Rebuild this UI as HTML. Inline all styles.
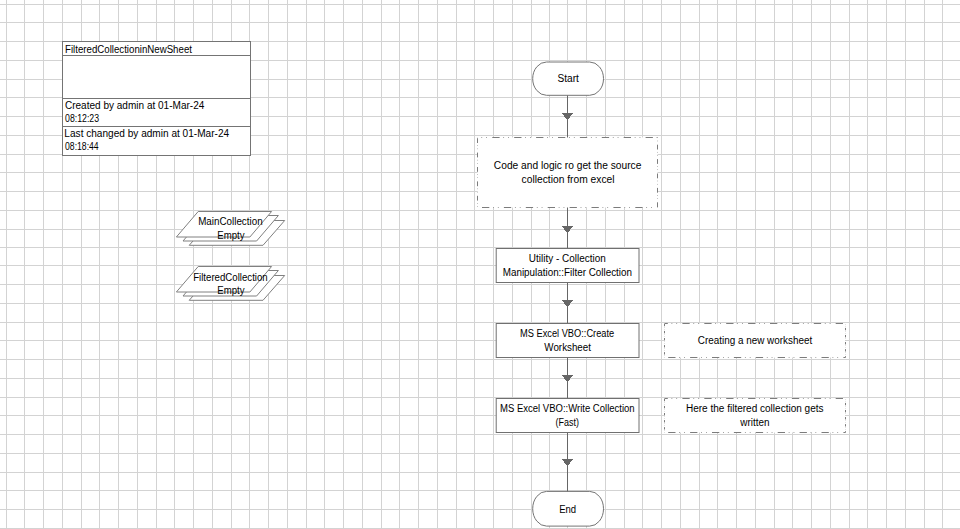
<!DOCTYPE html><html><head><meta charset="utf-8"><style>html,body{margin:0;padding:0;background:#fff;overflow:hidden}svg{display:block}text{font-family:'Liberation Sans', sans-serif;font-size:10px;fill:#000}</style></head><body>
<svg width="960" height="529" viewBox="0 0 960 529">
<rect width="960" height="529" fill="#fff"/>
<path d="M6.5 0V529M24.5 0V529M43.5 0V529M62.5 0V529M81.5 0V529M99.5 0V529M118.5 0V529M137.5 0V529M156.5 0V529M174.5 0V529M193.5 0V529M212.5 0V529M231.5 0V529M249.5 0V529M268.5 0V529M287.5 0V529M306.5 0V529M324.5 0V529M343.5 0V529M362.5 0V529M381.5 0V529M399.5 0V529M418.5 0V529M437.5 0V529M456.5 0V529M474.5 0V529M493.5 0V529M512.5 0V529M531.5 0V529M549.5 0V529M567.5 0V529M586.5 0V529M605.5 0V529M624.5 0V529M642.5 0V529M661.5 0V529M680.5 0V529M699.5 0V529M717.5 0V529M736.5 0V529M755.5 0V529M774.5 0V529M792.5 0V529M811.5 0V529M830.5 0V529M849.5 0V529M867.5 0V529M886.5 0V529M905.5 0V529M924.5 0V529M942.5 0V529M0 4.5H960M0 22.5H960M0 41.5H960M0 60.5H960M0 79.5H960M0 97.5H960M0 116.5H960M0 135.5H960M0 154.5H960M0 172.5H960M0 191.5H960M0 210.5H960M0 229.5H960M0 247.5H960M0 265.5H960M0 284.5H960M0 303.5H960M0 322.5H960M0 340.5H960M0 359.5H960M0 378.5H960M0 397.5H960M0 415.5H960M0 434.5H960M0 453.5H960M0 472.5H960M0 490.5H960M0 509.5H960M0 528.5H960" stroke="#d3d3d3" stroke-width="1" fill="none" shape-rendering="crispEdges"/>
<rect x="62.5" y="41.5" width="188" height="114" fill="#fff" stroke="#747474" stroke-width="1" shape-rendering="crispEdges"/>
<path d="M62 55.5H251M62 98.5H251M62 126.5H251" stroke="#747474" stroke-width="1" shape-rendering="crispEdges"/>
<path d="M567.5 95V492" stroke="#666" stroke-width="1" shape-rendering="crispEdges"/>
<path d="M561.5 113H573.5L567.5 120Z" fill="#666" shape-rendering="crispEdges"/>
<path d="M561.5 226H573.5L567.5 233Z" fill="#666" shape-rendering="crispEdges"/>
<path d="M561.5 300H573.5L567.5 307Z" fill="#666" shape-rendering="crispEdges"/>
<path d="M561.5 375H573.5L567.5 382Z" fill="#666" shape-rendering="crispEdges"/>
<path d="M561.5 459H573.5L567.5 466Z" fill="#666" shape-rendering="crispEdges"/>
<polygon points="211.3,220.5 284.7,220.5 263.0,245.3 189.2,245.3" fill="#fff" stroke="#808080" stroke-width="1"/>
<polygon points="205.0,215.5 278.4,215.5 256.6,241.0 183.0,241.0" fill="#fff" stroke="#808080" stroke-width="1"/>
<polygon points="198.2,211.5 271.6,211.5 249.9,237.0 176.4,237.0" fill="#fff" stroke="#808080" stroke-width="1"/>
<polygon points="211.3,275.5 284.7,275.5 263.0,300.3 189.2,300.3" fill="#fff" stroke="#808080" stroke-width="1"/>
<polygon points="205.0,270.5 278.4,270.5 256.6,296.0 183.0,296.0" fill="#fff" stroke="#808080" stroke-width="1"/>
<polygon points="198.2,266.5 271.6,266.5 249.9,292.0 176.4,292.0" fill="#fff" stroke="#808080" stroke-width="1"/>
<rect x="532.7" y="62.0" width="70.8" height="33.30" rx="13.8" ry="16.65" fill="#fff" stroke="#747474" stroke-width="1"/>
<rect x="532.7" y="491.4" width="70.8" height="34.70" rx="13.8" ry="17.35" fill="#fff" stroke="#747474" stroke-width="1"/>
<rect x="496.2" y="248.5" width="142.8" height="34" fill="#fff" stroke="#707070" stroke-width="1"/>
<rect x="496.2" y="323.5" width="142.8" height="34" fill="#fff" stroke="#707070" stroke-width="1"/>
<rect x="496.2" y="398.5" width="142.8" height="34" fill="#fff" stroke="#707070" stroke-width="1"/>
<rect x="477.5" y="137.5" width="180.0" height="70.0" fill="#fff"/>
<path d="M477.5 137.5H657.5" stroke="#7c7c7c" stroke-dasharray="7.30 3.75 0.70 4.15 0.70 5.30" stroke-dashoffset="7.1"/>
<path d="M477.5 207.5H657.5" stroke="#7c7c7c" stroke-dasharray="7.30 3.75 0.70 4.15 0.70 5.30" stroke-dashoffset="17.4"/>
<path d="M477.5 137.5V207.5" stroke="#7c7c7c" stroke-dasharray="4.80 2.47 0.46 2.73 0.46 3.48" stroke-dashoffset="13.7"/>
<path d="M657.5 137.5V207.5" stroke="#7c7c7c" stroke-dasharray="4.80 2.47 0.46 2.73 0.46 3.48" stroke-dashoffset="7.2"/>
<rect x="664.5" y="323.5" width="181.0" height="34.0" fill="#fff"/>
<path d="M664.5 323.5H845.5" stroke="#7c7c7c" stroke-dasharray="7.30 3.75 0.70 4.15 0.70 5.30" stroke-dashoffset="4.0"/>
<path d="M664.5 357.5H845.5" stroke="#7c7c7c" stroke-dasharray="7.30 3.75 0.70 4.15 0.70 5.30" stroke-dashoffset="18.2"/>
<path d="M664.5 323.5V357.5" stroke="#7c7c7c" stroke-dasharray="2.35 1.21 0.23 1.34 0.23 1.71" stroke-dashoffset="6.7"/>
<path d="M845.5 323.5V357.5" stroke="#7c7c7c" stroke-dasharray="2.35 1.21 0.23 1.34 0.23 1.71" stroke-dashoffset="2.65"/>
<rect x="664.5" y="398.5" width="181.0" height="34.0" fill="#fff"/>
<path d="M664.5 398.5H845.5" stroke="#7c7c7c" stroke-dasharray="7.30 3.75 0.70 4.15 0.70 5.30" stroke-dashoffset="4.0"/>
<path d="M664.5 432.5H845.5" stroke="#7c7c7c" stroke-dasharray="7.30 3.75 0.70 4.15 0.70 5.30" stroke-dashoffset="18.2"/>
<path d="M664.5 398.5V432.5" stroke="#7c7c7c" stroke-dasharray="2.35 1.21 0.23 1.34 0.23 1.71" stroke-dashoffset="6.7"/>
<path d="M845.5 398.5V432.5" stroke="#7c7c7c" stroke-dasharray="2.35 1.21 0.23 1.34 0.23 1.71" stroke-dashoffset="2.65"/>
<text id="t_title" x="65.01" y="53" textLength="126.97" lengthAdjust="spacingAndGlyphs">FilteredCollectioninNewSheet</text>
<text id="t_created" x="64.93" y="109" textLength="139.40" lengthAdjust="spacingAndGlyphs">Created by admin at 01-Mar-24</text>
<text id="t_c2" x="65.03" y="122" textLength="34.06" lengthAdjust="spacingAndGlyphs">08:12:23</text>
<text id="t_last" x="64.39" y="137" textLength="164.74" lengthAdjust="spacingAndGlyphs">Last changed by admin at 01-Mar-24</text>
<text id="t_l2" x="65.03" y="150" textLength="33.64" lengthAdjust="spacingAndGlyphs">08:18:44</text>
<text id="t_start" x="557.42" y="82" textLength="21.44" lengthAdjust="spacingAndGlyphs">Start</text>
<text id="t_code" x="493.86" y="169" textLength="147.55" lengthAdjust="spacingAndGlyphs">Code and logic ro get the source</text>
<text id="t_coll" x="521.64" y="183" textLength="92.87" lengthAdjust="spacingAndGlyphs">collection from excel</text>
<text id="t_util" x="528.84" y="262" textLength="76.88" lengthAdjust="spacingAndGlyphs">Utility - Collection</text>
<text id="t_manip" x="502.77" y="276" textLength="129.19" lengthAdjust="spacingAndGlyphs">Manipulation::Filter Collection</text>
<text id="t_mscreate" x="520.00" y="337" textLength="94.21" lengthAdjust="spacingAndGlyphs">MS Excel VBO::Create</text>
<text id="t_ws" x="544.37" y="351" textLength="46.64" lengthAdjust="spacingAndGlyphs">Worksheet</text>
<text id="t_msw" x="499.99" y="412" textLength="134.66" lengthAdjust="spacingAndGlyphs">MS Excel VBO::Write Collection</text>
<text id="t_fast" x="555.50" y="426" textLength="23.40" lengthAdjust="spacingAndGlyphs">(Fast)</text>
<text id="t_creating" x="697.74" y="344" textLength="114.43" lengthAdjust="spacingAndGlyphs">Creating a new worksheet</text>
<text id="t_here" x="685.93" y="412" textLength="137.61" lengthAdjust="spacingAndGlyphs">Here the filtered collection gets</text>
<text id="t_written" x="740.29" y="426" textLength="29.15" lengthAdjust="spacingAndGlyphs">written</text>
<text id="t_end" x="559.21" y="513" textLength="16.92" lengthAdjust="spacingAndGlyphs">End</text>
<text id="t_main" x="198.18" y="225" textLength="64.46" lengthAdjust="spacingAndGlyphs">MainCollection</text>
<text id="t_empty1" x="217.22" y="239" textLength="27.29" lengthAdjust="spacingAndGlyphs">Empty</text>
<text id="t_filt" x="193.21" y="281" textLength="74.48" lengthAdjust="spacingAndGlyphs">FilteredCollection</text>
<text id="t_empty2" x="217.22" y="294" textLength="27.29" lengthAdjust="spacingAndGlyphs">Empty</text>
</svg></body></html>
